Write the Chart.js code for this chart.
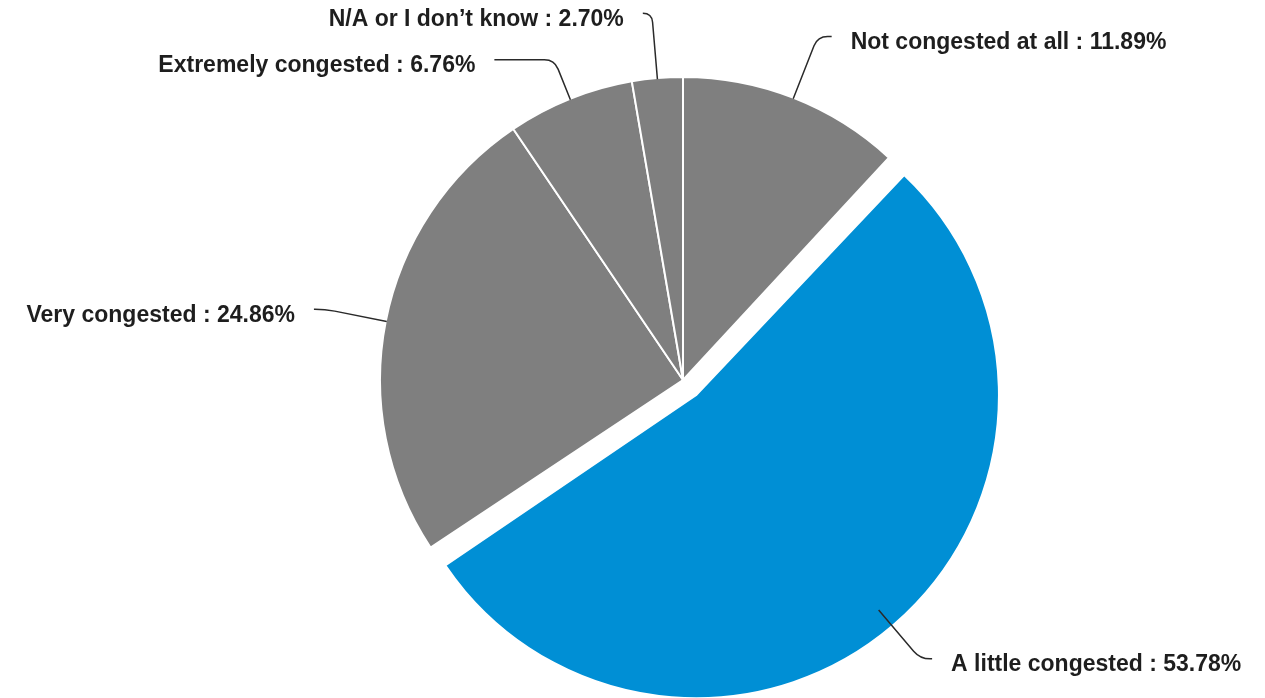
<!DOCTYPE html>
<html>
<head>
<meta charset="utf-8">
<script src="https://cdn.jsdelivr.net/npm/chart.js@4/dist/chart.umd.min.js"></script>
<style>
  html, body { margin: 0; padding: 0; background: #ffffff; }
  #wrap { width: 1265px; height: 698px; position: relative; }
</style>
</head>
<body>
<div id="wrap"><canvas id="c" width="1265" height="698"></canvas></div>
<script>
// ---- data ----
const categories = ["Not congested at all", "A little congested", "Very congested", "Extremely congested", "N/A or I don\u2019t know"];
const percentages = [11.89, 53.78, 24.86, 6.76, 2.70];
const sliceColors = ["#7f7f7f", "#008fd5", "#7f7f7f", "#7f7f7f", "#7f7f7f"];
const explode = [0, 1, 0, 0, 0];

// ---- label layout (style only) ----
const elbowRadius = [369, 366, 365, 345, 368];
const tailLength = [14, 12, 11, 60, 9];
const PIE_R = 303;
const EXPLODE_PX = 20;

const radiusFix = {
  id: 'radiusFix',
  afterDatasetUpdate(chart, args) {
    const meta = args.meta;
    meta.data.forEach((el, i) => {
      const off = (el.options && el.options.offset) || 0;
      if (off) el.outerRadius = el.outerRadius - off / 4;
    });
  }
};

const leaderLabels = {
  id: 'leaderLabels',
  afterDatasetsDraw(chart) {
    const meta = chart.getDatasetMeta(0);
    const ctx = chart.ctx;
    ctx.save();
    meta.data.forEach((el, i) => {
      const mid = (el.startAngle + el.endAngle) / 2;
      const cx = el.x, cy = el.y;
      const cs = Math.cos(mid), sn = Math.sin(mid);
      const r0 = PIE_R - 1;
      const p0 = {x: cx + cs * r0, y: cy + sn * r0};
      const re = elbowRadius[i];
      const p1 = {x: cx + cs * re, y: cy + sn * re};
      const side = cs >= 0 ? 1 : -1;
      const h = tailLength[i];
      const c = Math.min(10, h);
      const q = {x: cx + cs * (re - c), y: cy + sn * (re - c)};
      const p2 = {x: p1.x + side * h, y: p1.y};
      ctx.beginPath();
      ctx.strokeStyle = '#2a2a2a';
      ctx.lineWidth = 1.5;
      ctx.moveTo(p0.x, p0.y);
      ctx.lineTo(q.x, q.y);
      ctx.quadraticCurveTo(p1.x, p1.y, p1.x + side * c, p1.y);
      ctx.lineTo(p2.x, p2.y);
      ctx.stroke();
      ctx.font = 'bold 23px "Liberation Sans", Arial, sans-serif';
      ctx.fillStyle = '#1e1e1e';
      ctx.textBaseline = 'middle';
      ctx.textAlign = side > 0 ? 'left' : 'right';
      const txt = categories[i] + ' : ' + percentages[i].toFixed(2) + '%';
      ctx.fillText(txt, p2.x + side * 19, p2.y + 6);
    });
    ctx.restore();
  }
};

new Chart(document.getElementById('c'), {
  type: 'pie',
  data: {
    labels: categories,
    datasets: [{
      data: percentages,
      backgroundColor: sliceColors,
      borderColor: '#ffffff',
      borderWidth: 2,
      offset: explode.map(e => e * EXPLODE_PX * 4),
      hoverOffset: 0,
      radius: PIE_R
    }]
  },
  options: {
    responsive: false,
    animation: false,
    events: [],
    layout: { padding: { left: 101, right: 0, top: 62, bottom: 0 } },
    plugins: {
      legend: { display: false },
      tooltip: { enabled: false },
      title: { display: false }
    }
  },
  plugins: [radiusFix, leaderLabels]
});
</script>
</body>
</html>
